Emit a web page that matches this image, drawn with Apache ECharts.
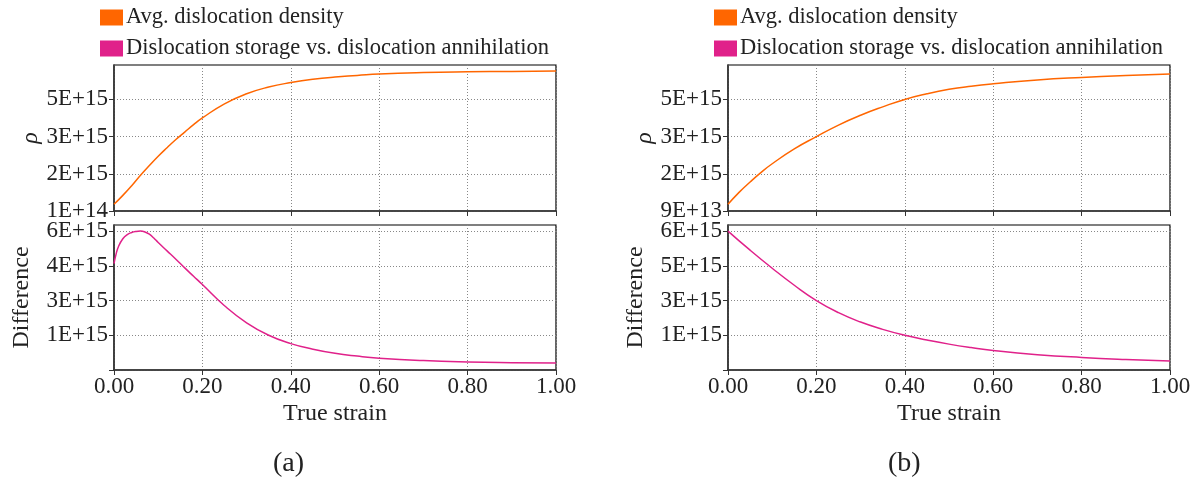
<!DOCTYPE html>
<html><head><meta charset="utf-8">
<script src="https://cdn.jsdelivr.net/npm/echarts@6/dist/echarts.min.js"></script>
<style>html,body{margin:0;padding:0;background:#fff}#c{width:1201px;height:485px}</style>
</head><body><div id="c"></div>
<script>
// ---- data ----
const seriesNames = ['Avg. dislocation density', 'Dislocation storage vs. dislocation annihilation'];
const xTicks = [0, 0.2, 0.4, 0.6, 0.8, 1.0];

const strainATop = [0,0.02,0.04,0.06,0.08,0.10,0.12,0.14,0.16,0.18,0.20,0.25,0.30,0.35,0.40,0.45,0.50,0.55,0.60,0.70,0.80,0.90,1.00];
const rhoA = [3.79e14,7.51e14,1.154e15,1.588e15,1.991e15,2.379e15,2.735e15,3.076e15,3.386e15,3.696e15,3.975e15,4.564e15,4.983e15,5.262e15,5.448e15,5.587e15,5.680e15,5.742e15,5.804e15,5.866e15,5.897e15,5.913e15,5.928e15];

const strainABot = [0,0.005,0.01,0.02,0.03,0.04,0.05,0.06,0.07,0.08,0.09,0.10,0.12,0.14,0.16,0.18,0.20,0.25,0.30,0.35,0.40,0.45,0.50,0.55,0.60,0.70,0.80,0.90,1.00];
const diffA = [4.437e15,4.858e15,5.148e15,5.481e15,5.655e15,5.742e15,5.786e15,5.80e15,5.764e15,5.670e15,5.51e15,5.322e15,4.974e15,4.626e15,4.263e15,3.915e15,3.567e15,2.683e15,1.972e15,1.45e15,1.102e15,8.7e14,6.96e14,5.8e14,4.93e14,3.92e14,3.34e14,3.05e14,2.9e14];

const strainBTop = [0,0.025,0.05,0.075,0.1,0.15,0.2,0.25,0.3,0.35,0.4,0.45,0.5,0.55,0.6,0.7,0.8,0.9,1.0];
const rhoB = [3.69e14,8.65e14,1.299e15,1.702e15,2.059e15,2.679e15,3.19e15,3.671e15,4.081e15,4.43e15,4.74e15,4.975e15,5.16e15,5.29e15,5.39e15,5.55e15,5.655e15,5.735e15,5.795e15];

const strainBBot = [0,0.05,0.1,0.15,0.2,0.25,0.3,0.35,0.4,0.45,0.5,0.55,0.6,0.7,0.8,0.9,1.0];
const diffB = [6.1e15,5.2475e15,4.4415e15,3.682e15,3.0e15,2.4575e15,2.039e15,1.7135e15,1.45e15,1.24e15,1.055e15,9.0e14,7.7e14,5.85e14,4.6e14,3.7e14,3.05e14];

// y tick values and labels
const yTicksATop = [1e14, 1.65e15, 3.2e15, 4.75e15];
const yLabelsATop = ['1E+14','2E+15','3E+15','5E+15'];
const yTicksABot = [0, 1.45e15, 2.9e15, 4.35e15, 5.8e15];
const yLabelsABot = ['','1E+15','3E+15','4E+15','6E+15'];
const yTicksBTop = [9e13, 1.64e15, 3.19e15, 4.74e15];
const yLabelsBTop = ['9E+13','2E+15','3E+15','5E+15'];
const yTicksBBot = [-1e14, 1.45e15, 3.0e15, 4.55e15, 6.1e15];
const yLabelsBBot = ['','1E+15','3E+15','5E+15','6E+15'];
const yRangeATop = [1e14, 6.18e15];
const yRangeABot = [0, 6.054e15];
const yRangeBTop = [9e13, 6.174e15];
const yRangeBBot = [-1e14, 6.371e15];

// ---- chart ----
const FONT = 'Liberation Serif';
const ORANGE = '#FF6600';
const PINK = '#E0218A';
const chart = echarts.init(document.getElementById('c'), null, {renderer: 'canvas'});

function zip(xs, ys) { return xs.map((x, i) => [x, ys[i]]); }
function fmtLookup(ticks, labels) {
  return function (v) {
    let best = -1, bd = Infinity;
    ticks.forEach((t, i) => { const d = Math.abs(t - v); if (d < bd) { bd = d; best = i; } });
    return bd < 1e12 ? labels[best] : '';
  };
}

const grids = [
  {left: 114, top: 65, width: 442, height: 146},
  {left: 114, top: 225, width: 442, height: 145},
  {left: 728, top: 65, width: 442, height: 146},
  {left: 728, top: 225, width: 442, height: 145}
].map(g => Object.assign(g, {show: true, borderColor: '#000', borderWidth: 1.2, backgroundColor: 'transparent'}));

function xAxis(gi, showLabels) {
  return {
    type: 'value', gridIndex: gi, min: 0, max: 1, interval: 0.2,
    axisLine: {show: true, onZero: false, lineStyle: {color: '#333', width: 1.5}},
    axisTick: {show: true, inside: false, length: 5, lineStyle: {color: '#333', width: 1}},
    axisLabel: {show: showLabels, fontFamily: FONT, fontSize: 23, color: '#222', margin: 5,
      formatter: v => v.toFixed(2)},
    splitLine: {show: true, lineStyle: {color: '#888', type: [1, 2], width: 1}},
    name: showLabels ? 'True strain' : '', nameLocation: 'middle', nameGap: 32,
    nameTextStyle: {fontFamily: FONT, fontSize: 24, color: '#222'}
  };
}
function yAxis(gi, range, ticks, labels, name, nameGap, nameStyle) {
  return {
    type: 'value', gridIndex: gi, min: range[0], max: range[1],
    axisLine: {show: true, onZero: false, lineStyle: {color: '#333', width: 1.5}},
    axisTick: {show: true, inside: false, length: 5, customValues: ticks, lineStyle: {color: '#333', width: 1}},
    axisLabel: {show: true, customValues: ticks, fontFamily: FONT, fontSize: 23, color: '#222', margin: 6,
      formatter: fmtLookup(ticks, labels)},
    splitLine: {show: true, lineStyle: {color: '#888', type: [1, 2], width: 1}},
    name: name, nameLocation: 'middle', nameRotate: 90, nameGap: nameGap,
    nameTextStyle: Object.assign({fontFamily: FONT, fontSize: 24, color: '#222'}, nameStyle || {})
  };
}

function lineSeries(name, xi, data, color) {
  return {
    type: 'line', name: name, xAxisIndex: xi, yAxisIndex: xi, data: data,
    smooth: 0.5, showSymbol: false, symbol: 'none', clip: true,
    lineStyle: {color: color, width: 1.5}, itemStyle: {color: color}
  };
}

const legendBase = {
  orient: 'vertical', icon: 'rect', itemWidth: 23, itemHeight: 16, itemGap: 8,
  selectedMode: false,
  textStyle: {fontFamily: FONT, fontSize: 22.5, color: '#222', padding: [0, 0, 0, -2]},
  data: seriesNames, padding: 0
};

chart.setOption({
  animation: false,
  backgroundColor: '#fff',
  grid: grids,
  legend: [
    Object.assign({}, legendBase, {left: 100, top: 6}),
    Object.assign({}, legendBase, {left: 714, top: 6})
  ],
  xAxis: [xAxis(0, false), xAxis(1, true), xAxis(2, false), xAxis(3, true)],
  yAxis: [
    yAxis(0, yRangeATop, yTicksATop, yLabelsATop, 'ρ', 71, {fontStyle: 'italic'}),
    yAxis(1, yRangeABot, yTicksABot, yLabelsABot, 'Difference', 80),
    yAxis(2, yRangeBTop, yTicksBTop, yLabelsBTop, 'ρ', 71, {fontStyle: 'italic'}),
    yAxis(3, yRangeBBot, yTicksBBot, yLabelsBBot, 'Difference', 80)
  ],
  series: [
    lineSeries(seriesNames[0], 0, zip(strainATop, rhoA), ORANGE),
    lineSeries(seriesNames[1], 1, zip(strainABot, diffA), PINK),
    lineSeries(seriesNames[0], 2, zip(strainBTop, rhoB), ORANGE),
    lineSeries(seriesNames[1], 3, zip(strainBBot, diffB), PINK)
  ],
  graphic: [
    {type: 'text', left: 273, top: 450, style: {text: '(a)', fontFamily: FONT, fontSize: 28, fill: '#222'}},
    {type: 'text', left: 888, top: 450, style: {text: '(b)', fontFamily: FONT, fontSize: 28, fill: '#222'}}
  ]
});
</script>
</body></html>
